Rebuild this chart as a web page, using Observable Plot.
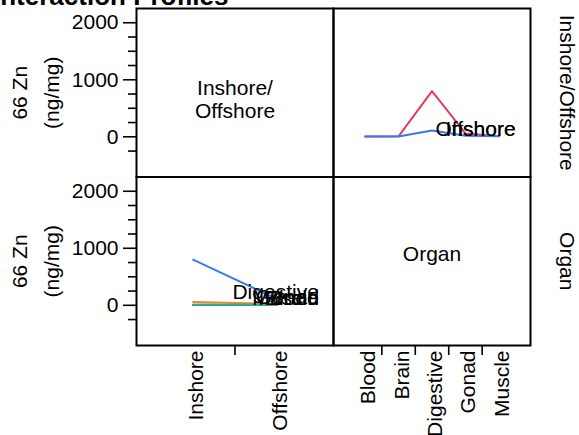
<!DOCTYPE html>
<html>
<head>
<meta charset="utf-8">
<script src="https://cdn.jsdelivr.net/npm/d3@7"></script>
<script src="https://cdn.jsdelivr.net/npm/@observablehq/plot@0.6"></script>
<style>
html, body { margin: 0; padding: 0; background: #fff; }
#chart { position: relative; width: 579px; height: 435px; overflow: hidden; font-family: "Liberation Sans", Arial, sans-serif; }
#chart svg { position: absolute; left: 0; top: 0; }
#title { position: absolute; left: -7px; top: -17px; font-weight: bold; font-size: 26px; line-height: 26px; white-space: nowrap; z-index: 5; }
</style>
</head>
<body>
<div id="chart"><div id="title">Interaction Profiles</div></div>
<script>
// ---- data ----
const factors = ["Inshore/Offshore", "Organ"];
const organs = ["Blood", "Brain", "Digestive", "Gonad", "Muscle"];
const sites = ["Inshore", "Offshore"];
const inshoreZn = [5, 8, 800, 60, 10];
const offshoreZn = [5, 5, 110, 20, 8];
const yMajorTicks = [0, 1000, 2000];
const yMinorTicks = [-250, 250, 500, 750, 1250, 1500, 1750];
const yLabel = "66 Zn\n(ng/mg)";
const siteColors = ["#E8385C", "#3C78F0"];
const organColors = ["#E8385C", "#9B4FD0", "#3C78F0", "#E8872A", "#22B884"];

// ---- layout ----
const W = 579, H = 435;
const colX = [136, 333, 530];
const rowY = [8, 176.5, 345];
const yDomain = [-705, 2250];
const siteDomain = [-0.675, sites.length - 1 + 0.675];
const organDomain = [-0.945, organs.length - 1 + 0.945];
const FS = 21;

const rows = organs.flatMap((o, i) => [
  {organ: o, oi: i, site: sites[0], si: 0, zn: inshoreZn[i]},
  {organ: o, oi: i, site: sites[1], si: 1, zn: offshoreZn[i]}
]);

const style = {fontFamily: "Liberation Sans, Arial, sans-serif", fontSize: FS + "px", background: "transparent", overflow: "visible"};

function panel(col, row, opts) {
  return Plot.plot({
    width: W, height: H,
    marginLeft: colX[col], marginRight: W - colX[col + 1],
    marginTop: rowY[row], marginBottom: H - rowY[row + 1],
    style,
    ...opts
  });
}

const yAxes = [
  Plot.axisY({ticks: yMinorTicks, tickSize: 8, tickFormat: () => "", label: null, strokeWidth: 1.6}),
  Plot.axisY({ticks: yMajorTicks, tickSize: 13, tickPadding: 5, tickFormat: d => String(d), label: null, strokeWidth: 1.6, fontSize: FS}),
  Plot.text([yLabel], {text: d => d, frameAnchor: "left", textAnchor: "middle", rotate: -90, dx: -104, fontSize: FS, lineHeight: 1.52})
];
const frame = Plot.frame({stroke: "black", strokeWidth: 2});

// top-left: factor name
const tl = panel(0, 0, {
  x: {domain: siteDomain, axis: null},
  y: {domain: yDomain},
  marks: [
    ...yAxes,
    Plot.text([factors[0].replace("/", "/\n")], {text: d => d, frameAnchor: "middle", dy: 6.5, fontSize: FS, lineHeight: 1.1}),
    frame
  ]
});

// top-right: Zn by organ, lines by site
const tr = panel(1, 0, {
  x: {domain: organDomain, axis: null},
  y: {domain: yDomain, axis: null},
  color: {domain: sites, range: siteColors},
  marks: [
    Plot.line(rows, {x: "oi", y: "zn", z: "site", stroke: "site", strokeWidth: 2}),
    Plot.text(rows.filter(d => d.oi === organs.length - 1), {x: () => organs.length - 0.5, y: "zn", text: "site", textAnchor: "end", lineAnchor: "bottom", fontSize: FS}),
    Plot.text([factors[0]], {text: d => d, frameAnchor: "right", textAnchor: "middle", rotate: 90, dx: 36, fontSize: FS}),
    frame
  ]
});

// bottom-left: Zn by site, lines by organ
const bl = panel(0, 1, {
  x: {domain: siteDomain},
  y: {domain: yDomain},
  color: {domain: organs, range: organColors},
  marks: [
    ...yAxes,
    Plot.axisX({ticks: d3.range(0.5, sites.length - 1, 1), tickSize: 10, tickFormat: () => "", label: null, strokeWidth: 1.6}),
    Plot.text(sites, {x: (d, i) => i, text: d => d, frameAnchor: "bottom", rotate: -90, textAnchor: "end", dy: 5, dx: 10, fontSize: FS}),
    Plot.line(rows, {x: "si", y: "zn", z: "organ", stroke: "organ", strokeWidth: 2}),
    Plot.text(rows.filter(d => d.si === sites.length - 1), {x: () => sites.length - 0.5, y: "zn", text: "organ", textAnchor: "end", lineAnchor: "bottom", fontSize: FS}),
    frame
  ]
});

// bottom-right: factor name
const br = panel(1, 1, {
  x: {domain: organDomain},
  y: {domain: yDomain, axis: null},
  marks: [
    Plot.axisX({ticks: d3.range(0.5, organs.length - 1, 1), tickSize: 10, tickFormat: () => "", label: null, strokeWidth: 1.6}),
    Plot.text(organs, {x: (d, i) => i, text: d => d, frameAnchor: "bottom", rotate: -90, textAnchor: "end", dy: 5, dx: 10, fontSize: FS}),
    Plot.text([factors[1]], {text: d => d, frameAnchor: "middle", dy: -6.7, fontSize: FS}),
    Plot.text([factors[1]], {text: d => d, frameAnchor: "right", textAnchor: "middle", rotate: 90, dx: 36, fontSize: FS}),
    frame
  ]
});

const chart = document.getElementById("chart");
for (const p of [tl, tr, bl, br]) chart.appendChild(p);
</script>
</body>
</html>
